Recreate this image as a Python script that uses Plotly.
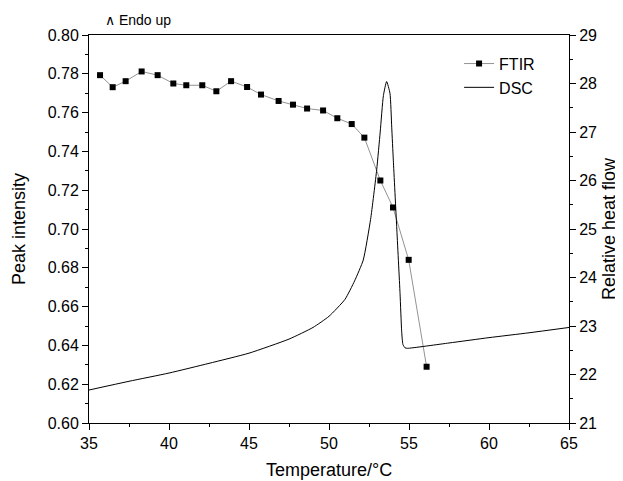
import plotly.graph_objects as go

# FTIR peak intensity vs temperature (left axis)
ftir_temp = [35.69, 36.48, 37.29, 38.29, 39.29, 40.27, 41.08, 42.08, 42.96, 43.88,
             44.88, 45.75, 46.85, 47.75, 48.63, 49.63, 50.52, 51.42, 52.21, 53.21,
             54.00, 54.98, 56.10]
ftir_peak = [0.7793, 0.7731, 0.7762, 0.7812, 0.7793, 0.7750, 0.7741, 0.7741, 0.7710, 0.7762,
             0.7732, 0.7693, 0.7660, 0.7641, 0.7621, 0.7611, 0.7571, 0.7541, 0.7471, 0.7250,
             0.7111, 0.6841, 0.6290]

# DSC relative heat flow vs temperature (right axis)
dsc_temp = [35.0, 37.5, 40.0, 42.5, 45.0, 47.5, 49.0, 50.0, 51.0, 51.6,
            52.14, 52.6, 52.98, 53.2, 53.4, 53.6, 53.81, 53.92, 54.02, 54.23,
            54.44, 54.54, 54.62, 54.75, 54.9, 57.5, 60.0, 62.5, 65.0]
dsc_flow = [21.68, 21.86, 22.03, 22.23, 22.44, 22.73, 22.97, 23.20, 23.55, 23.93,
            24.36, 25.20, 26.22, 27.00, 27.75, 28.04, 27.80, 27.10, 26.42, 25.05,
            23.67, 22.90, 22.62, 22.55, 22.54, 22.65, 22.76, 22.86, 22.97]

x_ticks = [35, 40, 45, 50, 55, 60, 65]
left_ticks = [0.60, 0.62, 0.64, 0.66, 0.68, 0.70, 0.72, 0.74, 0.76, 0.78, 0.80]
right_ticks = [21, 22, 23, 24, 25, 26, 27, 28, 29]

FONT = "Liberation Sans, Arial, sans-serif"
BLACK = "black"

fig = go.Figure()
fig.add_trace(go.Scatter(
    x=ftir_temp, y=ftir_peak, name="FTIR", mode="lines+markers",
    line=dict(color="#777777", width=0.8),
    marker=dict(symbol="square", size=6, color="black"),
    yaxis="y",
))
fig.add_trace(go.Scatter(
    x=dsc_temp, y=dsc_flow, name="DSC", mode="lines",
    line=dict(color="black", width=1, shape="spline", smoothing=0.5),
    yaxis="y2",
))

axis_common = dict(
    showline=True, linecolor=BLACK, linewidth=1,
    ticks="outside", ticklen=6, tickwidth=1, tickcolor=BLACK,
    showgrid=False, zeroline=False, automargin=False,
    tickfont=dict(family=FONT, size=16, color=BLACK),
)

title_font = dict(family=FONT, size=18, color=BLACK)

# page body has an 8px margin, so the figure is sized/offset to compensate
fig.update_layout(
    width=615, height=473,
    margin=dict(l=81, r=54, t=27, b=58),
    paper_bgcolor="white", plot_bgcolor="white",
    showlegend=True,
    legend=dict(x=0.771, y=0.97, xanchor="left", yanchor="top",
                bgcolor="rgba(0,0,0,0)", font=dict(family=FONT, size=16, color=BLACK),
                tracegroupgap=0),
    xaxis=dict(range=[35, 65], tickvals=x_ticks, mirror=True,
               minor=dict(dtick=2.5, ticks="outside", ticklen=3, tickcolor=BLACK),
               **axis_common),
    yaxis=dict(range=[0.60, 0.80], tickvals=left_ticks, tickformat=".2f",
               minor=dict(dtick=0.01, ticks="outside", ticklen=3, tickcolor=BLACK),
               **axis_common),
    yaxis2=dict(range=[21, 29], tickvals=right_ticks, overlaying="y", side="right",
                minor=dict(dtick=0.5, ticks="outside", ticklen=3, tickcolor=BLACK),
                **axis_common),
    annotations=[
        dict(text="∧ Endo up", xref="paper", yref="paper", x=0, y=1, xshift=14, yshift=5,
             xanchor="left", yanchor="bottom", showarrow=False,
             font=dict(family=FONT, size=14, color=BLACK)),
        dict(text="Peak intensity", xref="paper", yref="paper", x=0, y=0.5, xshift=-70,
             textangle=-90, showarrow=False, xanchor="center", yanchor="middle", font=title_font),
        dict(text="Relative heat flow", xref="paper", yref="paper", x=1, y=0.5, xshift=40,
             textangle=-90, showarrow=False, xanchor="center", yanchor="middle", font=title_font),
        dict(text="Temperature/°C", xref="paper", yref="paper", x=0.5, y=0, yshift=-47,
             showarrow=False, xanchor="center", yanchor="middle", font=title_font),
    ],
)

fig.write_html("out.html")
